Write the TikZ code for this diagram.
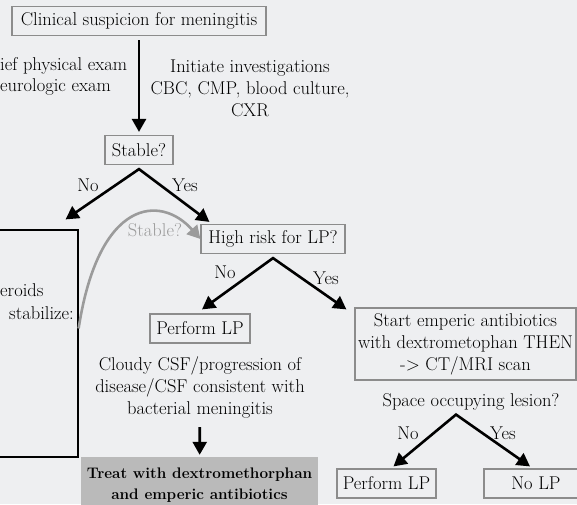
\documentclass[tikz,border=0pt]{standalone}
\usetikzlibrary{calc,arrows.meta}
\definecolor{bgcolor}{RGB}{238,239,241}
\definecolor{boxgray}{RGB}{140,140,140}
\definecolor{curvegray}{RGB}{155,155,155}
\definecolor{treatgray}{RGB}{186,186,186}

\begin{document}
\begin{tikzpicture}[x=1pt,y=-1pt]
  \clip (0,0) rectangle (577,504);
  \fill [bgcolor] (0,0) rectangle (577,504);
  \begin{scope}[
    every node/.style={
      align=center,
      inner sep=0pt,
      font=\fontsize{18.5}{22}\selectfont,
    },
    box/.style={
      rectangle,
      draw=boxgray,
      line width=1.2pt,
      minimum height=29pt,
    },
    ]
    % Suspicion
    \node [box,minimum width=254pt] (suspicion) at (139,21) {Clinical suspicion for meningitis};
    \node [anchor=west] (examA) at (0,66) {ief physical exam};
    \node [anchor=west] (examB) at (0,87) {eurologic exam};
    \node (invest) at (250,88) {Initiate investigations\\CBC, CMP, blood culture,\\CXR};

    % Stable
    \node [box,minimum width=68pt] (stable) at (139,150) {Stable?};
    \node (stableNo) at (88,185) {No};
    \node (stableYes) at (185,185) {Yes};

    % Steroids
    \node [draw=black,line width=1.2pt,minimum width=83pt,minimum height=227pt] (steroids) at (36.5,343.5) {};
    \node [anchor=west] (steroidsA) at (0,290) {eroids};
    \node [anchor=west] (steroidsB) at (9,313) {stabilize:};

    % High risk
    \node [box,minimum width=144pt] (hrisk) at (273,239) {High risk for LP?};
    \node [text=curvegray] (hriskStable) at (155,230) {Stable?};
    \node (hriskNo) at (225,272) {No};
    \node (hriskYes) at (326,278) {Yes};

    % Perform LP
    \node [box,minimum width=100pt] (performLP) at (200,328.5) {Perform LP};
    \node (cloudy) at (200,387) {Cloudy CSF/progression of\\disease/CSF consistent with\\bacterial meningitis};
    \node [fill=treatgray,minimum width=237pt,minimum height=57pt,
      font=\fontsize{15.3}{21}\selectfont\bfseries] (treat) at (199.5,485.5)
      {Treat with dextromethorphan\\and emperic antibiotics};

    % Start antibiotics
    \node [box,minimum width=221pt,minimum height=72pt] (startab) at (465.5,344)
      {Start emperic antibiotics\\with dextrometophan THEN\\-> CT/MRI scan};
    \node (lesion) at (471,402) {Space occupying lesion?};
    \node (lesionNo) at (408,433) {No};
    \node (lesionYes) at (503,433) {Yes};
    \node [box,minimum width=99pt] (performLPb) at (386.5,483.5) {Perform LP};
    \node [box,minimum width=104pt] (noLP) at (536,483.5) {No LP};
  \end{scope}
  \begin{scope}[
    myarrow/.style={
      line width=2.6pt,
      -{Triangle[length=13pt,width=14pt]},
    },
    forkarrow/.style={
      line width=2.6pt,
      miter limit=20,
      {Triangle[length=13pt,width=14pt]}-{Triangle[length=13pt,width=14pt]},
    },
    ]
    \coordinate (stableFork) at ($(stable.south)+(0,4)$);
    \coordinate (hriskFork) at ($(hrisk.south)+(0,4)$);
    \coordinate (lesionFork) at ($(lesion.south)+(-15,4)$);

    % Path suspicion
    \draw [myarrow,shorten <=4pt,shorten >=3pt] (suspicion) -- (stable);

    % Path stable
    \draw [forkarrow] ($(steroids.north east)+(-13,-10)$) -- (stableFork) -- ($(hrisk.north west)+(9,-2)$);
    \draw [myarrow,curvegray] ($(steroids.east)+(0,-15)$) .. controls +(20,-130) and +(-40,-45) .. (hrisk.west);

    % Path hrisk
    \draw [forkarrow] ($(performLP.north)+(2,-4)$) -- (hriskFork) -- ($(startab.north west)+(-8,2)$);
    \draw [myarrow,shorten <=9pt,shorten >=2pt] (cloudy) -- (treat);

    % Path lesion
    \draw [forkarrow] ($(performLPb.north)+(7,-2)$) -- (lesionFork) -- ($(noLP.north)+(-6,-2)$);
  \end{scope}
\end{tikzpicture}
\end{document}
